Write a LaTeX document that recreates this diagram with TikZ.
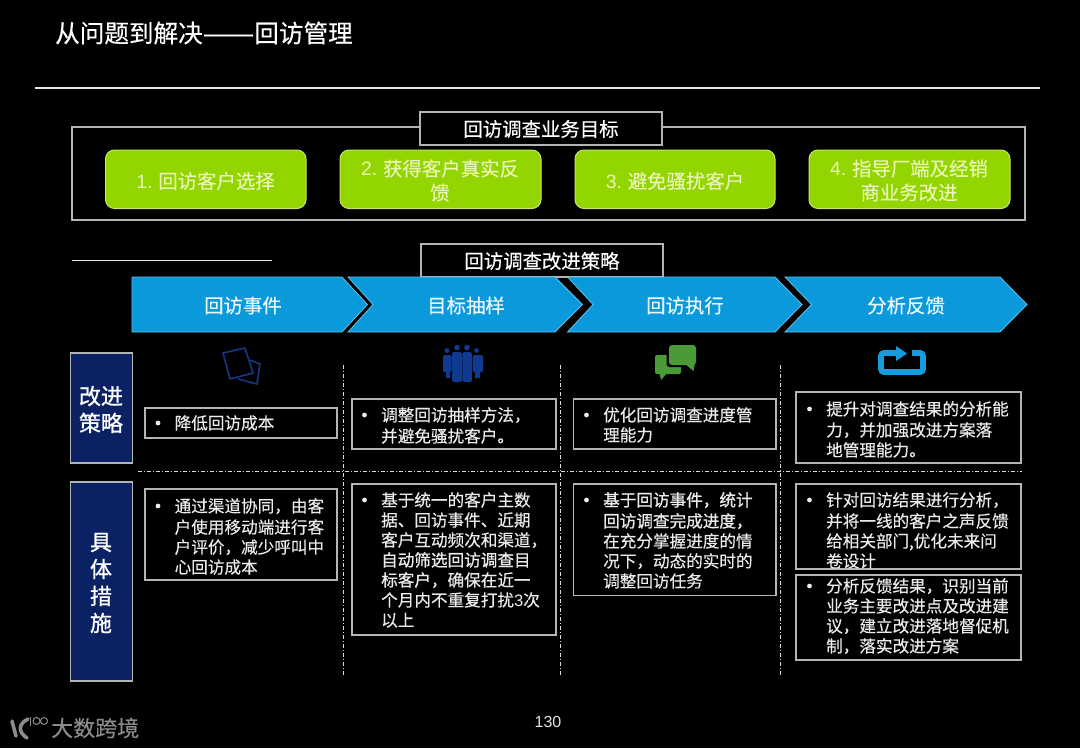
\documentclass[tikz,border=0pt]{standalone}
\usepackage{fontspec}
\setmainfont{Noto Sans CJK SC}[UprightFeatures={FakeBold=0.3}]
\newfontfamily\strongf{Noto Sans CJK SC}[FakeBold=1]
\newfontfamily\latinf{Liberation Sans}
\definecolor{goalgreen}{HTML}{93D500}
\definecolor{goaledge}{HTML}{C9E66E}
\definecolor{goaltext}{HTML}{EAF5B5}
\definecolor{chevblue}{HTML}{0A9ADC}
\definecolor{chevedge}{HTML}{62BFE8}
\definecolor{navy}{HTML}{0A2263}
\definecolor{edgegrey}{HTML}{B4B4B4}
\definecolor{iconnavy}{HTML}{16357F}
\definecolor{iconblue}{HTML}{103A90}
\definecolor{icongreen}{HTML}{4A9A35}
\definecolor{iconsky}{HTML}{149CDF}
\definecolor{logogrey}{HTML}{8C8C8C}
\tikzset{
  x=1pt,y=-1pt,
  frameline/.style={draw=edgegrey,line width=1.1pt},
  labelbox/.style={draw=edgegrey,line width=1.1pt,fill=black},
  labeltext/.style={text=white,inner sep=0pt,font=\fontsize{19.4}{24}\selectfont},
  goalbox/.style={draw=goaledge,line width=1pt,fill=goalgreen,rounded corners=9pt},
  goaltextst/.style={text=goaltext,inner sep=0pt,align=center,font=\fontsize{19.4}{24}\selectfont},
  chevron/.style={draw=chevedge,line width=.8pt,fill=chevblue},
  chevtext/.style={text=white!92!chevblue,inner sep=0pt,font=\fontsize{19.4}{24}\selectfont},
  sidebox/.style={draw=edgegrey,line width=1.2pt,fill=navy},
  sidetext/.style={text=white,inner sep=0pt,align=center,font=\strongf\fontsize{22}{27}\selectfont},
  cellbox/.style={draw=edgegrey,line width=1.1pt},
  bodytext/.style={text=white!92!black,inner sep=0pt,align=left,anchor=north west,font=\fontsize{16.6}{20}\selectfont},
  dotline/.style={draw=white!85!black,line width=1pt,dash pattern=on 4pt off 2pt on 1pt off 2pt},
}
\newcommand{\celltxt}[4]{%
  \fill[white!92!black] (#2-16.5,#3) circle (2.4pt);
  \node[bodytext] (#1) at (#2,#3-8) {\strut #4};}
\begin{document}
\begin{tikzpicture}
\useasboundingbox (0,0) rectangle (1080,748);
\fill[black] (0,0) rectangle (1080,748);
% title
\node[anchor=west,inner sep=0pt,text=white,font=\fontsize{24.6}{30}\selectfont] (title) at (55,33) {从问题到解决\scalebox{1.25}[1]{——}回访管理};
\draw[white!90!black,line width=1.2pt] (35,88) -- (1040,88);
% goals
\draw[frameline] (72,127) rectangle (1025,220);
\node[labelbox,minimum width=242pt,minimum height=33pt,inner sep=0pt] (goalhead) at (541,128.5) {};
\node[labeltext] (goalheadt) at (541,129) {回访调查业务目标};
\draw[goalbox] (105.5,150) rectangle (306,208.5);
\draw[goalbox] (340,150) rectangle (541,208.5);
\draw[goalbox] (575,150) rectangle (775,208.5);
\draw[goalbox] (809,150) rectangle (1010,208.5);
\node[goaltextst] (g1) at (205.5,181) {{\latinf 1.} 回访客户选择};
\node[goaltextst] (g2) at (440,180.5) {{\latinf 2.} 获得客户真实反\\馈};
\node[goaltextst] (g3) at (675,181) {{\latinf 3.} 避免骚扰客户};
\node[goaltextst] (g4) at (909,180.5) {{\latinf 4.} 指导厂端及经销\\商业务改进};
% strategy head
\draw[white!90!black,line width=.9pt] (72,260) -- (272,260);
\node[labelbox,minimum width=242pt,minimum height=33pt,inner sep=0pt] (stratbox) at (542,260.5) {};
\node[labeltext] (stratt) at (542,261) {回访调查改进策略};
% chevrons
\draw[chevron] (132,277) -- (342,277) -- (367.5,304.5) -- (342,332) -- (132,332) -- cycle;
\draw[chevron] (348,277) -- (555,277) -- (582.5,304.5) -- (555,332) -- (348,332) -- (373,304.5) -- cycle;
\draw[chevron] (567.5,277) -- (775,277) -- (802,304.5) -- (775,332) -- (567.5,332) -- (593,304.5) -- cycle;
\draw[chevron] (785,277) -- (1000,277) -- (1027,304.5) -- (1000,332) -- (785,332) -- (811.5,304.5) -- cycle;
\node[chevtext] (c1) at (243,305.5) {回访事件};
\node[chevtext] (c2) at (466,305.5) {目标抽样};
\node[chevtext] (c3) at (685,305.5) {回访执行};
\node[chevtext] (c4) at (906,305.5) {分析反馈};
% side labels
\draw[sidebox] (70.5,353) rectangle (132.5,463);
\draw[sidebox] (70.5,482) rectangle (132.5,681);
\node[sidetext] (s1) at (101,409.5) {改进\\策略};
\node[sidetext] (s2) at (101,583) {具\\体\\措\\施};
% dividers
\draw[dotline] (138,471) -- (1022,471);
\draw[dotline] (343,365) -- (343,676);
\draw[dotline] (560,365) -- (560,676);
\draw[dotline] (780,365) -- (780,676);
% icons
\draw[iconnavy,line width=1.7pt,line join=round] (223,353) -- (245,348) -- (253,373) -- (230,379) -- cycle;
\draw[iconnavy,line width=1.7pt,line join=round] (250,360) -- (260,364) -- (257,384) -- (238,379);
\fill[iconblue] (447,350.5) circle (2.4pt) (476.5,350.5) circle (2.4pt) (457,347.5) circle (2.8pt) (467,347.5) circle (2.8pt);
\fill[iconblue,rounded corners=1.5pt] (443,355) rectangle (451.5,372);
\fill[iconblue,rounded corners=1.5pt] (472.5,355) rectangle (483,372);
\fill[iconblue,rounded corners=1.5pt] (452.2,352) rectangle (461.8,382);
\fill[iconblue,rounded corners=1.5pt] (462.4,352) rectangle (471.9,382);
\fill[iconblue] (446,372) rectangle (450,378) (475,372) rectangle (480,378);
\fill[icongreen,rounded corners=2pt] (655,355) rectangle (681,374);
\fill[icongreen] (659,372) -- (668,372) -- (661,380) -- cycle;
\fill[black,rounded corners=3pt] (666.5,342.5) rectangle (698.5,367);
\fill[icongreen,rounded corners=3pt] (669,345) rectangle (696,365);
\fill[icongreen] (684,363) -- (695,363) -- (693.5,371) -- cycle;
\draw[iconsky,line width=5.8pt,rounded corners=3pt] (912,353) -- (923,353) -- (923,372) -- (881,372) -- (881,353) -- (898,353);
\fill[iconsky] (896,346) -- (907,353.5) -- (896,361) -- cycle;
% cells
\draw[cellbox] (145,408) rectangle (337,438);
\draw[cellbox] (352,399) rectangle (556,449);
\draw[cellbox] (573.5,399) rectangle (776,449);
\draw[cellbox] (796,392) rectangle (1021,463);
\draw[cellbox] (145,489) rectangle (337,580);
\draw[cellbox] (352,484) rectangle (556,635);
\draw[cellbox] (573.5,484) rectangle (776,595.5);
\draw[cellbox] (796,484) rectangle (1021,569);
\draw[cellbox] (796,575) rectangle (1021,660);
\celltxt{a1}{174.5}{423}{降低回访成本}
\celltxt{a2}{381}{415}{调整回访抽样方法，\\并避免骚扰客户。}
\celltxt{a3}{603}{415}{优化回访调查进度管\\理能力}
\celltxt{a4}{826}{409}{提升对调查结果的分析能\\力，并加强改进方案落\\地管理能力。}
\celltxt{b1}{174.5}{506}{通过渠道协同，由客\\户使用移动端进行客\\户评价，减少呼叫中\\心回访成本}
\celltxt{b2}{381}{500}{基于统一的客户主数\\据、回访事件、近期\\客户互动频次和渠道，\\{\strongf 自动筛选回访调查目}\\{\strongf 标客户}，确保在近一\\个月内不重复打扰{\latinf 3}次\\以上}
\celltxt{b3}{603}{500}{{\strongf 基于回访事件，统计}\\{\strongf 回访调查完成进度，}\\在充分掌握进度的情\\况下，动态的实时的\\调整回访任务}
\celltxt{b4}{826}{500}{针对回访结果进行分析，\\并将一线的客户之声反馈\\给相关部门,优化未来问\\卷设计}
\celltxt{b5}{826}{586}{分析反馈结果，识别当前\\业务主要改进点及改进建\\议，建立改进落地督促机\\制，落实改进方案}
% footer
\node[inner sep=0pt,text=white!90!black,font=\latinf\fontsize{16}{20}\selectfont] (page) at (548,722) {130};
\node[anchor=west,inner sep=0pt,text=logogrey,font=\fontsize{22}{26}\selectfont] (logot) at (51,728) {大数跨境};
\draw[logogrey,line width=3.6pt,line cap=round] (12,721) -- (16,736);
\draw[logogrey,line width=3.6pt,line cap=round] (28,719) .. controls (18,724) and (18,732) .. (27,738);
\draw[logogrey,line width=1pt] (30.5,726) -- (30.5,716.5);
\draw[logogrey,line width=1pt] (36.5,721) circle (3.5pt) (44,721) circle (3.5pt);
\end{tikzpicture}
\end{document}
